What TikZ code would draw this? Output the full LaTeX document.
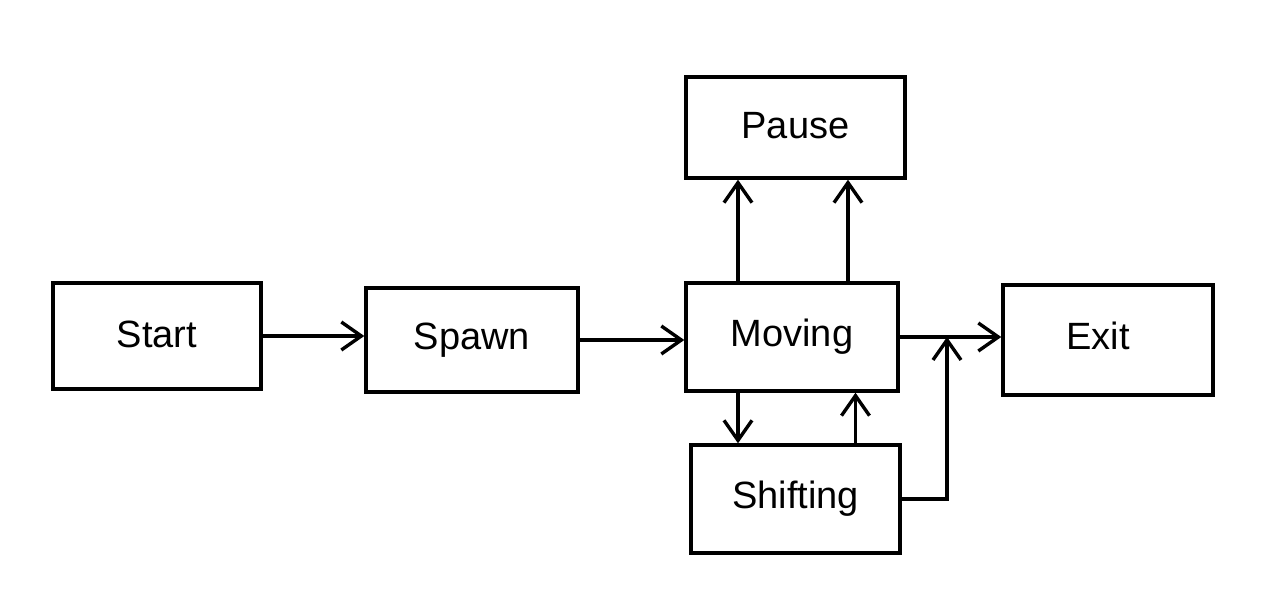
\documentclass[tikz,border=0pt]{standalone}
\usepackage{fontspec}
\setmainfont{Liberation Sans}
\usetikzlibrary{arrows.meta}
\tikzset{
  box/.style={draw=black, line width=1.7pt, rectangle, font=\fontsize{19}{22}\selectfont, inner sep=0pt},
  arr/.style={draw=black, line width=1.7pt, -{Straight Barb[length=10pt,width=14pt,line width=1.7pt]}},
}
\begin{document}
\begin{tikzpicture}[x=0.5pt,y=-0.5pt]
\fill[white] (0,0) rectangle (1280,614);
\useasboundingbox (0,0) rectangle (1280,614);
\node[box, minimum width=104pt, minimum height=53pt] (start) at (157,336) {\raisebox{2pt}{Start}};
\node[box, minimum width=106pt, minimum height=52pt] (spawn) at (472,340) {\raisebox{1pt}{Spawn}};
\node[box, minimum width=106pt, minimum height=54pt] (moving) at (792,337) {\raisebox{2pt}{Moving}};
\node[box, minimum width=109.5pt, minimum height=50.5pt] (pause) at (795.5,127.5) {\raisebox{2.5pt}{Pause}};
\node[box, minimum width=105pt, minimum height=55pt] (exit) at (1108,340) {\raisebox{4pt}{Exit}\hspace*{10pt}};
\node[box, minimum width=104.5pt, minimum height=54pt] (shifting) at (795.5,499) {\raisebox{2pt}{Shifting}};
\coordinate (j) at (947,337);
\draw[arr] (start.east) -- (start.east -| spawn.west);
\draw[arr] (spawn.east) -- (spawn.east -| moving.west);
\draw[arr] (moving.east) -- (moving.east -| exit.west);
\draw[arr] ([xshift=-27pt]moving.north) -- ([xshift=-27pt]moving.north |- pause.south);
\draw[arr] ([xshift=28pt]moving.north) -- ([xshift=28pt]moving.north |- pause.south);
\draw[arr] ([xshift=-27pt]moving.south) -- ([xshift=-27pt]moving.south |- shifting.north);
\draw[arr] ([xshift=30pt]shifting.north) -- ([xshift=30pt]shifting.north |- moving.south);
\draw[arr] (shifting.east) -| (j);
\end{tikzpicture}
\end{document}
